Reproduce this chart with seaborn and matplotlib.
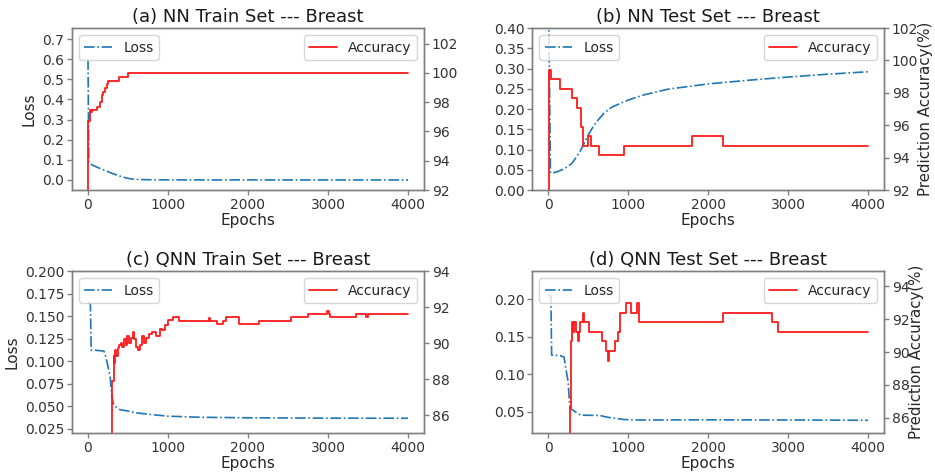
import numpy as np
import pandas as pd
import matplotlib
matplotlib.use("Agg")
import matplotlib.pyplot as plt
import seaborn as sns

# ---------------- data ----------------
# (a) NN train
loss_a_epochs = [0, 10, 50, 100, 150, 200, 250, 300, 350, 400, 450, 500, 550, 600, 700, 800, 1000, 1500, 2000, 3000, 4000]
loss_a = [0.60, 0.085, 0.075, 0.066, 0.057, 0.049, 0.041, 0.033, 0.026, 0.019, 0.013, 0.008, 0.005, 0.003, 0.0015, 0.001,
          0.0005, 0.0003, 0.0002, 0.0001, 0.0001]
acc_a_epochs = [0, 4, 20, 30, 40, 50, 110, 150, 170, 190, 210, 232, 255, 390, 500, 4000]
acc_a = [60, 96.7, 97.2, 97.5, 97.3, 97.5, 97.7, 98.0, 98.5, 98.7, 99.0, 99.25, 99.45, 99.7, 100, 100]

# (b) NN test
loss_b_epochs = [0, 30, 100, 200, 300, 400, 450, 500, 550, 600, 700, 800, 1000, 1200, 1500, 2000, 2500, 3000, 3500, 4000]
loss_b = [0.60, 0.042, 0.044, 0.052, 0.066, 0.095, 0.115, 0.135, 0.152, 0.167, 0.19, 0.205, 0.222, 0.235, 0.249,
          0.262, 0.271, 0.279, 0.286, 0.292]
acc_b_epochs = [0, 8, 42, 150, 303, 357, 416, 440, 497, 540, 634, 945, 1803, 2181, 4000]
acc_b = [60, 99.42, 98.83, 98.25, 97.66, 97.08, 95.91, 94.74, 95.32, 94.74, 94.15, 94.74, 95.32, 94.74, 94.74]

# (c) QNN train
loss_c_epochs = [0, 30, 40, 100, 200, 215, 235, 265, 280, 295, 316, 350, 400, 500, 600, 800, 1000, 1400, 2000, 3000, 4000]
loss_c = [0.165, 0.164, 0.112, 0.112, 0.111, 0.107, 0.100, 0.088, 0.080, 0.063, 0.053, 0.049, 0.046, 0.0445, 0.0425,
          0.0405, 0.0388, 0.0376, 0.0370, 0.0366, 0.0365]
acc_c_epochs = [0, 295, 305, 320, 330, 340, 350, 370, 390, 410, 430, 450, 470, 490, 510, 540, 560, 580, 600, 620,
                650, 680, 700, 730, 760, 800, 850, 900, 920, 960, 1000, 1060, 1140, 1510, 1530, 1610, 1690, 1720,
                1890, 2140, 2540, 2750, 2985, 3010, 3030, 3350, 3480, 3500, 4000]
acc_c = [62, 86.5, 87.9, 89.3, 88.9, 89.6, 89.3, 89.7, 89.9, 90.0, 89.8, 90.2, 89.9, 90.4, 90.0, 90.3, 90.6, 90.2,
         89.8, 89.6, 89.9, 90.4, 90.0, 90.3, 90.5, 90.6, 90.4, 90.8, 90.7, 91.0, 91.3, 91.45, 91.25, 91.4, 91.25,
         91.05, 91.25, 91.45, 91.05, 91.25, 91.42, 91.6, 91.8, 91.6, 91.42, 91.6, 91.42, 91.6, 91.6]

# (d) QNN test
loss_d_epochs = [0, 35, 45, 150, 200, 220, 250, 273, 302, 405, 550, 650, 736, 850, 950, 1150, 2000, 3000, 4000]
loss_d = [0.206, 0.205, 0.1257, 0.125, 0.123, 0.109, 0.091, 0.055, 0.0527, 0.0455, 0.0452, 0.045, 0.0428, 0.041,
          0.0396, 0.039, 0.0392, 0.0390, 0.0386]
acc_d_epochs = [0, 275, 285, 300, 318, 328, 345, 372, 385, 395, 440, 455, 510, 675, 730, 745, 760, 835, 870, 900,
                970, 1040, 1110, 1135, 2181, 2803, 2873, 4000]
acc_d = [62, 86.6, 90.64, 91.81, 91.23, 91.81, 91.23, 90.64, 91.23, 91.81, 92.40, 91.81, 91.23, 90.64, 90.06, 89.47,
         90.06, 90.64, 91.23, 92.40, 92.98, 92.40, 92.98, 91.81, 92.40, 91.81, 91.23, 91.23]

titles = ["(a) NN Train Set --- Breast", "(b) NN Test Set --- Breast",
          "(c) QNN Train Set --- Breast", "(d) QNN Test Set --- Breast"]
x_ticks = [0, 1000, 2000, 3000, 4000]

# ---------------- style ----------------
sns.set_theme(style="ticks")
plt.rcParams["font.family"] = ["DejaVu Sans"]
text_c = "#262626"
spine_c = "#7f7f7f"
plt.rcParams.update({
    "axes.edgecolor": spine_c,
    "xtick.color": spine_c,
    "ytick.color": spine_c,
    "xtick.labelcolor": "#333333",
    "ytick.labelcolor": "#333333",
    "axes.labelcolor": text_c,
    "text.color": text_c,
    "xtick.labelsize": 10,
    "ytick.labelsize": 10,
    "axes.labelsize": 11,
    "legend.fontsize": 10,
    "axes.linewidth": 1.0,
})

fig, axes = plt.subplots(2, 2, figsize=(9.35, 4.75), dpi=100)
fig.subplots_adjust(left=0.077, right=0.9455, top=0.941, bottom=0.0884, wspace=0.307, hspace=0.50)

panels = [
    (loss_a_epochs, loss_a, acc_a_epochs, acc_a, (-0.05, 0.755), np.arange(0, 0.71, 0.1), (92, 103.07), [92, 94, 96, 98, 100, 102]),
    (loss_b_epochs, loss_b, acc_b_epochs, acc_b, (0.0, 0.40), np.arange(0, 0.401, 0.05), (92, 102), [92, 94, 96, 98, 100, 102]),
    (loss_c_epochs, loss_c, acc_c_epochs, acc_c, (0.0201, 0.2), np.arange(0.025, 0.2001, 0.025), (85, 94), [86, 88, 90, 92, 94]),
    (loss_d_epochs, loss_d, acc_d_epochs, acc_d, (0.0216, 0.238), [0.05, 0.10, 0.15, 0.20], (85.08, 94.92), [86, 88, 90, 92, 94]),
]

for i, (ax, p) in enumerate(zip(axes.flat, panels)):
    le, lv, ae, av, lylim, lyt, rylim, ryt = p
    ax2 = ax.twinx()
    sns.lineplot(x=le, y=lv, ax=ax, color="#1f77b4", linestyle="-.", linewidth=1.2,
                 label="Loss", estimator=None, sort=False)
    sns.lineplot(x=ae, y=av, ax=ax2, color="#ff1a1a", linewidth=1.3, label="Accuracy",
                 estimator=None, sort=False, drawstyle="steps-post")
    ax.set_xlim(-200, 4200)
    ax.set_ylim(*lylim)
    ax.set_yticks(lyt)
    ax2.set_ylim(*rylim)
    ax2.set_yticks(ryt)
    ax.set_xticks(x_ticks)
    ax.set_title(titles[i], fontsize=13, pad=4, color="#1a1a1a")
    ax.set_xlabel("Epochs", labelpad=1)
    if i in (0, 2):
        ax.set_ylabel("Loss")
    else:
        ax.set_ylabel("")
    for a in (ax, ax2):
        for s in a.spines.values():
            s.set_visible(True)
            s.set_color(spine_c)
        a.tick_params(length=3.5, width=1, pad=2)
    if i in (1, 3):
        ax2.set_ylabel("Prediction Accuracy(%)", fontsize=10.8, labelpad=0)
    else:
        ax2.set_ylabel("")
    ax.legend(loc="upper left", frameon=True, framealpha=0.8, edgecolor="#cccccc", fancybox=True)
    ax2.legend(loc="upper right", frameon=True, framealpha=0.8, edgecolor="#cccccc", fancybox=True)

fig.savefig("out.png", dpi=100)
